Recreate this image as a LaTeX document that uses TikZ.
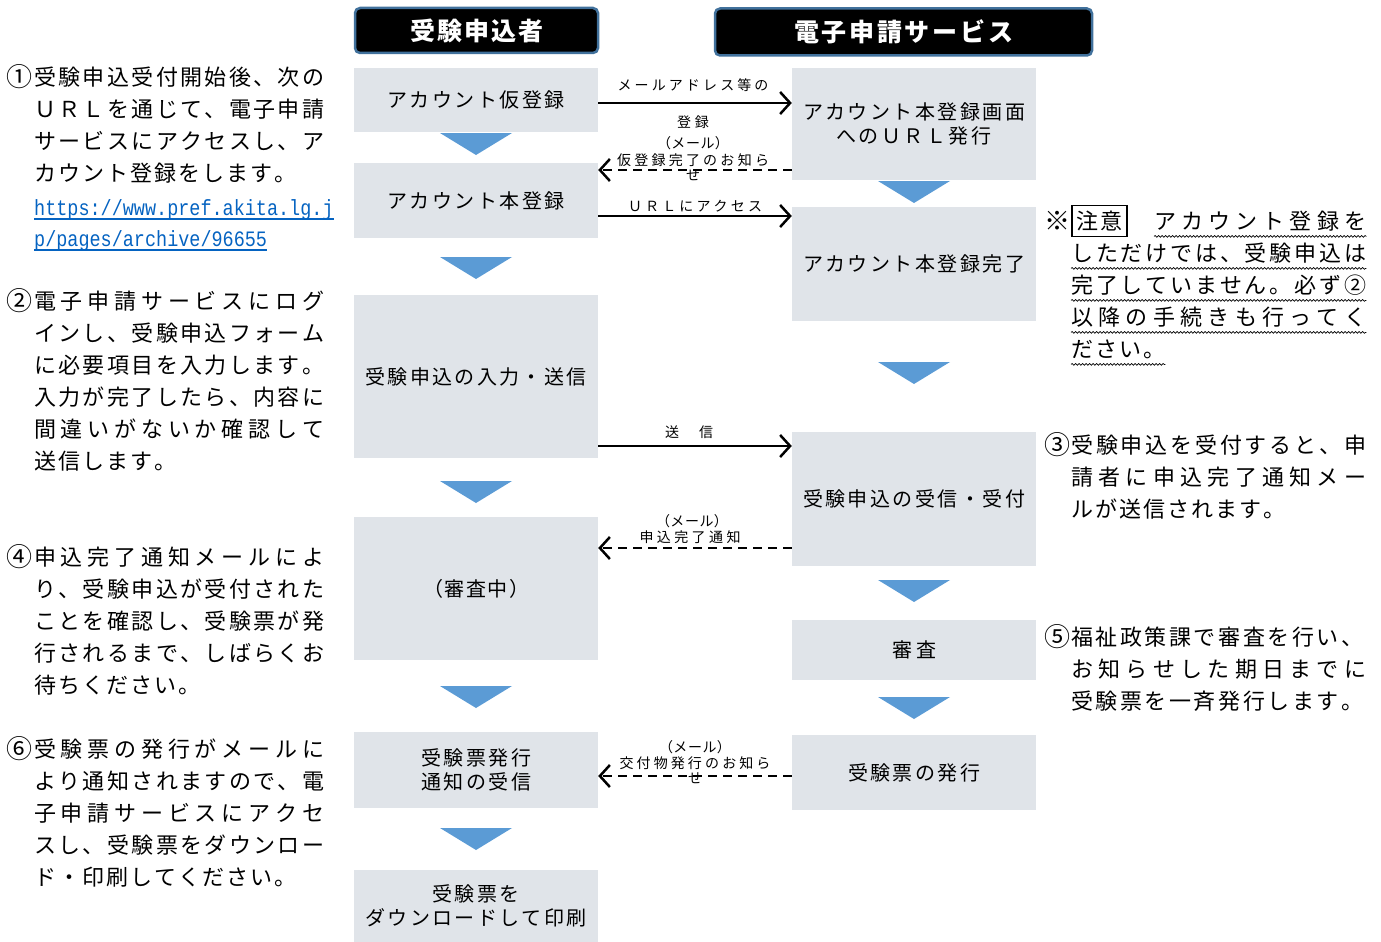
\documentclass[tikz,border=0pt]{standalone}
\usepackage{fontspec}
\setmainfont{Noto Sans CJK JP}
\newfontfamily\urlfont[FakeStretch=0.84]{Liberation Mono}
\usetikzlibrary{arrows.meta,decorations.pathmorphing}
\definecolor{boxfill}{RGB}{224,228,233}
\definecolor{tri}{RGB}{91,155,213}
\definecolor{hdrborder}{RGB}{65,113,156}
\definecolor{urlblue}{RGB}{5,99,193}
\makeatletter
\def\jl@a#1{#1\futurelet\jl@next\jl@b}
\def\jl@b{\ifx\jl@next\jl@end\expandafter\@gobble\else\hfil\expandafter\jl@a\fi}
\def\jl@end{\jl@end}
\newcommand\jl[2]{\makebox[#1][s]{\jl@a#2\jl@end}}
\makeatother
\newcommand\tl[5]{\node[txt] (#1) at (#2,#3) {\jl{#4pt}{#5}};}
\newcommand\tridown[2]{\fill[tri] (#1-36,#2) -- (#1+36,#2) -- (#1,#2+22) -- cycle;}
\begin{document}
\begin{tikzpicture}[x=1pt,y=-1pt,
  stepbox/.style={fill=boxfill, draw=none, inner sep=0pt, minimum width=244pt, align=center, font=\fontsize{20}{24}\selectfont},
  hdr/.style={fill=black, draw=hdrborder, line width=2.5pt, rounded corners=5pt, text=white, inner sep=0pt, font=\fontsize{25}{30}\selectfont\bfseries},
  txt/.style={anchor=west, inner sep=0pt, font=\fontsize{22}{26}\selectfont, text height=19.4pt, text depth=2.6pt},
  num/.style={inner sep=0pt, font=\fontsize{26}{30}\selectfont, text height=22.9pt, text depth=3.1pt},
  lbl/.style={inner sep=0pt, font=\fontsize{14}{16}\selectfont, text height=12.3pt, text depth=1.7pt},
  flow/.style={line width=2pt, -{Straight Barb[length=10pt,width=22pt,line width=2.5pt]}},
  back/.style={flow, dash pattern=on 9pt off 6pt},
  wavy/.style={decorate, decoration={snake, amplitude=0.9pt, segment length=3.5pt}, line width=0.7pt},
  urlline/.style={urlblue, line width=1.2pt}]
\useasboundingbox (0,0) rectangle (1381,942);

% headers
\node[hdr, minimum width=243pt, minimum height=45pt] (H1) at (476.5,30.5) {\jl{133pt}{受験申込者}};
\node[hdr, minimum width=377pt, minimum height=47pt] (H2) at (903.5,32) {\jl{219pt}{電子申請サービス}};

% left column boxes
\node[stepbox, minimum height=64pt] (L1) at (476,100) {\jl{177pt}{アカウント仮登録}};
\node[stepbox, minimum height=75pt] (L2) at (476,200.5) {\jl{177pt}{アカウント本登録}};
\node[stepbox, minimum height=163pt] (L3) at (476,376.5) {\jl{221pt}{受験申込の入力・送信}};
\node[stepbox, minimum height=143pt] (L4) at (476,588.5) {\jl{106pt}{（審査中）}};
\node[stepbox, minimum height=76pt] (L5) at (476,770) {\jl{110pt}{受験票発行}\\\jl{110pt}{通知の受信}};
\node[stepbox, minimum height=72pt] (L6) at (476,906) {\jl{88pt}{受験票を}\\\jl{221pt}{ダウンロードして印刷}};

% right column boxes
\node[stepbox, minimum height=112pt] (R1) at (914,124) {\jl{222pt}{アカウント本登録画面}\\\jl{155pt}{へのＵＲＬ発行}};
\node[stepbox, minimum height=114pt] (R2) at (914,264) {\jl{222pt}{アカウント本登録完了}};
\node[stepbox, minimum height=134pt] (R3) at (914,499) {\jl{222pt}{受験申込の受信・受付}};
\node[stepbox, minimum height=60pt] (R4) at (914,650) {\jl{44pt}{審査}};
\node[stepbox, minimum height=75pt] (R5) at (914,772.5) {\jl{132pt}{受験票の発行}};

% down triangles
\tridown{476}{133}
\tridown{476}{257}
\tridown{476}{481}
\tridown{476}{686}
\tridown{476}{828}
\tridown{914}{181}
\tridown{914}{362}
\tridown{914}{580}
\tridown{914}{697}

% arrow levels
\coordinate (y1) at (0,103);
\coordinate (y2) at (0,170);
\coordinate (y3) at (0,216);
\coordinate (y4) at (0,446);
\coordinate (y5) at (0,548);
\coordinate (y6) at (0,776);

\draw[flow] (L1.east |- y1) -- (R1.west |- y1);
\draw[back] (R1.west |- y2) -- (L2.east |- y2);
\draw[flow] (L2.east |- y3) -- (R2.west |- y3);
\draw[flow] (L3.east |- y4) -- (R3.west |- y4);
\draw[back] (R3.west |- y5) -- (L4.east |- y5);
\draw[back] (R5.west |- y6) -- (L5.east |- y6);

% arrow labels
\node[lbl] (a1a) at (693,85) {\jl{151pt}{メールアドレス等の}};
\node[lbl] (a1b) at (693,122) {\jl{32pt}{登録}};
\node[lbl] (a2a) at (693,143) {\jl{72pt}{（メール）}};
\node[lbl] (a2b) at (693,160) {\jl{152pt}{仮登録完了のお知ら}};
\node[lbl] (a2c) at (693,175) {せ};
\node[lbl] (a3a) at (695,206) {\jl{134pt}{ＵＲＬにアクセス}};
\node[lbl] (a4a) at (689,432) {\jl{48pt}{送　信}};
\node[lbl] (a5a) at (692,521) {\jl{72pt}{（メール）}};
\node[lbl] (a5b) at (690,537) {\jl{101pt}{申込完了通知}};
\node[lbl] (a6a) at (695,747) {\jl{72pt}{（メール）}};
\node[lbl] (a6b) at (695,763) {\jl{151pt}{交付物発行のお知ら}};
\node[lbl] (a6c) at (695,778) {せ};

% left explanations
\node[num] (n1) at (19.5,77) {①};
\tl{l11}{34}{77}{290}{受験申込受付開始後、次の}
\tl{l12}{34}{109}{290}{ＵＲＬを通じて、電子申請}
\tl{l13}{34}{141}{290}{サービスにアクセスし、ア}
\tl{l14}{34}{173}{262}{カウント登録をします。}
\node[anchor=base west, inner sep=0pt, text=urlblue, font=\urlfont\fontsize{22}{26}\selectfont] (u1) at (34,215) {https://www.pref.akita.lg.j};
\node[anchor=base west, inner sep=0pt, text=urlblue, font=\urlfont\fontsize{22}{26}\selectfont] (u2) at (34,246) {p/pages/archive/96655};
\draw[urlline] ([yshift=-4pt]u1.base west) -- ([yshift=-4pt]u1.base east);
\draw[urlline] ([yshift=-4pt]u2.base west) -- ([yshift=-4pt]u2.base east);

\node[num] (n2) at (19.5,301) {②};
\tl{l21}{34}{301}{290}{電子申請サービスにログ}
\tl{l22}{34}{333}{290}{インし、受験申込フォーム}
\tl{l23}{34}{365}{290}{に必要項目を入力します。}
\tl{l24}{34}{397}{290}{入力が完了したら、内容に}
\tl{l25}{34}{429}{290}{間違いがないか確認して}
\tl{l26}{34}{461}{142}{送信します。}

\node[num] (n4) at (19.5,557) {④};
\tl{l41}{34}{557}{290}{申込完了通知メールによ}
\tl{l42}{34}{589}{290}{り、受験申込が受付された}
\tl{l43}{34}{621}{290}{ことを確認し、受験票が発}
\tl{l44}{34}{653}{290}{行されるまで、しばらくお}
\tl{l45}{34}{685}{166}{待ちください。}

\node[num] (n6) at (19.5,749) {⑥};
\tl{l61}{34}{749}{290}{受験票の発行がメールに}
\tl{l62}{34}{781}{290}{より通知されますので、電}
\tl{l63}{34}{813}{290}{子申請サービスにアクセ}
\tl{l64}{34}{845}{290}{スし、受験票をダウンロー}
\tl{l65}{34}{877}{262}{ド・印刷してください。}

% right notes
\node[num] (nx) at (1057,221) {※};
\node[draw, line width=1.2pt, inner sep=0pt, minimum width=55pt, minimum height=31pt, font=\fontsize{22}{26}\selectfont, text height=19.4pt, text depth=2.6pt] (cau) at (1099.5,221) {\jl{46pt}{注意}};
\tl{r11}{1154}{221}{212}{アカウント登録を}
\tl{r12}{1071}{253}{295}{しただけでは、受験申込は}
\tl{r13}{1071}{285}{295}{完了していません。必ず②}
\tl{r14}{1071}{317}{295}{以降の手続きも行ってく}
\tl{r15}{1071}{349}{94}{ださい。}
\foreach \n in {r11,r12,r13,r14,r15}
  \draw[wavy] ([yshift=-7pt]\n.base west) -- ([yshift=-7pt]\n.base east);

\node[num] (n3) at (1057,445) {③};
\tl{r31}{1071}{445}{295}{受験申込を受付すると、申}
\tl{r32}{1071}{477}{295}{請者に申込完了通知メー}
\tl{r33}{1071}{509}{214}{ルが送信されます。}

\node[num] (n5) at (1057,637) {⑤};
\tl{r51}{1071}{637}{292}{福祉政策課で審査を行い、}
\tl{r52}{1071}{669}{295}{お知らせした期日までに}
\tl{r53}{1071}{701}{292}{受験票を一斉発行します。}
\end{tikzpicture}
\end{document}
